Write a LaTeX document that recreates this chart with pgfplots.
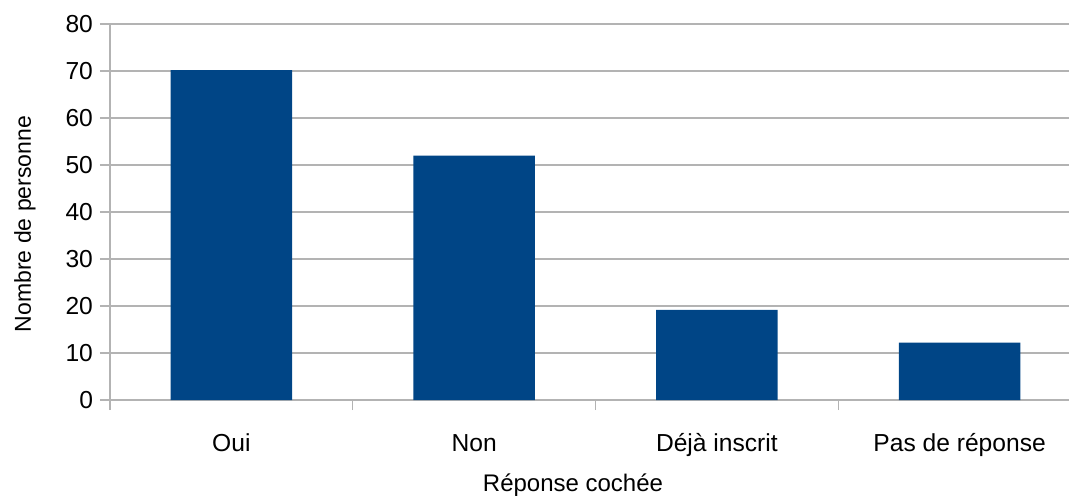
\documentclass[border=0pt]{standalone}
\usepackage{pgfplots}
\pgfplotsset{compat=1.18}
\usepackage{fontspec}
\setmainfont{Liberation Sans}
\definecolor{barblue}{HTML}{004586}
\definecolor{gridgray}{HTML}{B3B3B3}
\begin{document}
\begin{tikzpicture}
\begin{axis}[
  at={(0,0)}, anchor=south west,
  scale only axis,
  width=485.5pt, height=188pt,
  xmin=-0.5, xmax=3.5,
  ymin=0, ymax=80,
  ytick={0,10,...,80},
  xtick={0,1,2,3},
  xticklabels={Oui,Non,Déjà inscrit,Pas de réponse},
  minor xtick={-0.5,0.5,1.5,2.5},
  axis x line=bottom, axis y line=left,
  axis line style={draw=gridgray, -, line width=0.6pt},
  ymajorgrids,
  grid style={draw=gridgray, line width=0.6pt},
  major x tick style={draw=none},
  minor x tick style={draw=gridgray, line width=0.6pt},
  y tick style={draw=gridgray, line width=0.6pt},
  tick align=outside,
  major tick length=5pt,
  minor tick length=5pt,
  tick label style={font=\fontsize{12.3}{14}\selectfont},
  /pgf/number format/assume math mode=true,
  xticklabel style={anchor=base, yshift=-20.5pt},
  xlabel={Réponse cochée},
  ylabel={Nombre de personne},
  xlabel style={font=\fontsize{12}{14}\selectfont, at={(rel axis cs:0,0)}, anchor=base, xshift=231.5pt, yshift=-45.5pt},
  ylabel style={font=\fontsize{11.5}{14}\selectfont, at={(rel axis cs:0,0)}, anchor=center, rotate=0, xshift=88pt, yshift=42.5pt},
  ybar, bar width=0.5,
  clip=false,
]
\addplot[fill=barblue, draw=none] coordinates {(0,70.2) (1,52) (2,19.2) (3,12.2)};
\end{axis}
\pgfresetboundingbox
\path (-55pt,-47.5pt) rectangle (479.5pt,200pt);
\end{tikzpicture}
\end{document}
